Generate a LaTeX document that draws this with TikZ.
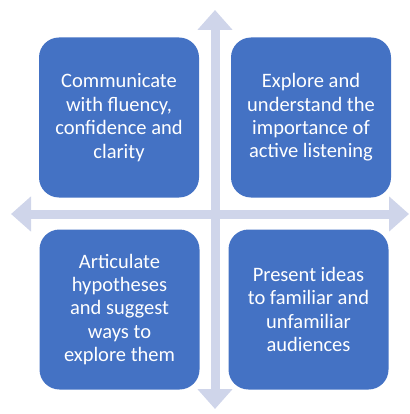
\documentclass[tikz,border=0pt]{standalone}
\usepackage{fontspec}
\setmainfont{Carlito}
\usepackage{tikz}
\usetikzlibrary{arrows.meta}
\definecolor{qdblue}{RGB}{68,114,196}
\definecolor{qdlav}{RGB}{207,213,234}
\tikzset{
  quad/.style={fill=qdblue, draw=none, rounded corners=20pt,
               minimum width=160pt, minimum height=160pt, inner sep=0pt,
               align=center, text=white, font=\fontsize{20.5}{23.4}\selectfont},
  axis/.style={{Triangle[width=34pt,length=20pt]}-{Triangle[width=34pt,length=20pt]},
               line width=9pt, color=qdlav},
}

\begin{document}
\begin{tikzpicture}[x=1pt,y=-1pt]
\useasboundingbox (0,0) rectangle (409,414);
% ends of the cross
\coordinate (north) at (215,10);
\coordinate (south) at (215,409);
\coordinate (west) at (11,214);
\coordinate (east) at (409,214);
\draw[axis] (west) -- (east);
\draw[axis] (north) -- (south);
% the four quadrants
\node[quad] (comm) at (119,117.5) {Communicate\\with fluency,\\confidence and\\clarity};
\node[quad] (listen) at (311,117.5) {Explore and\\understand the\\importance of\\active listening};
\node[quad] (hypo) at (119.5,309.5) {Articulate\\hypotheses\\and suggest\\ways to\\explore them};
\node[quad] (present) at (308.5,309.5) {Present ideas\\to familiar and\\unfamiliar\\audiences};
\end{tikzpicture}
\end{document}
